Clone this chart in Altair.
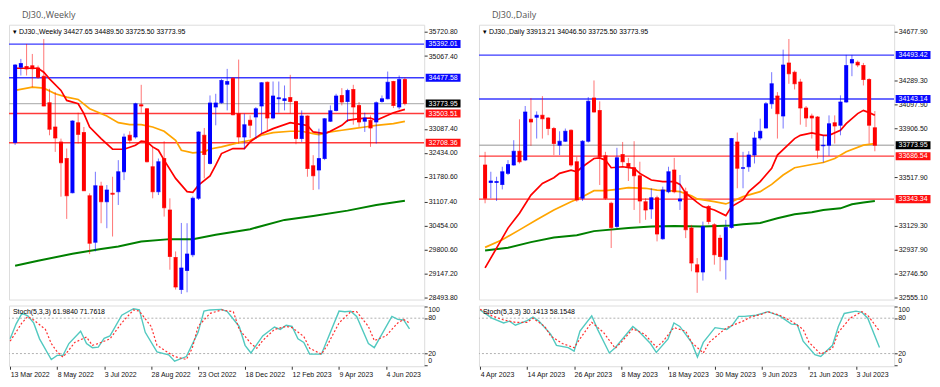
import json
import numpy as np
import pandas as pd
import altair as alt

# ------------------------------------------------------------------ weekly data
w_labels = ["13 Mar 2022", "8 May 2022", "3 Jul 2022", "28 Aug 2022", "23 Oct 2022",
            "18 Dec 2022", "12 Feb 2023", "9 Apr 2023", "4 Jun 2023"]
w_open = [32715, 34763, 34781, 34800, 34745, 34520, 33797, 33139, 32733, 32282,
          31352, 33256, 32986, 31271, 30008, 31533, 31109, 31334, 31380, 31921,
          32913, 32868, 33744, 33635, 32056, 31380, 32282, 30883, 29593, 28718,
          29240, 29665, 31199, 32913, 32147, 33680, 33798, 34303, 34465, 33500,
          32868, 33319, 33410, 33707, 34357, 33383, 33906, 33861, 33942, 33834,
          32823, 33437, 32083, 31966, 32282, 33292, 33590, 33996, 33834, 34159,
          33725, 33292, 33319, 33274, 33834, 33906, 34375, 33680, 34427.65]
w_high = [34850, 34989, 35395, 35124, 34808, 35530, 34177, 34087, 32823, 32553,
          33319, 33527, 33139, 31334, 31921, 31650, 31560, 31786, 32237, 32958,
          33022, 33798, 34285, 33653, 32598, 32282, 32751, 31199, 29755, 30530,
          30523, 31250, 33022, 33112, 33996, 34041, 34447, 34718, 34492, 34971,
          33500, 33455, 33680, 34357, 34375, 34375, 34375, 34267, 34556, 33852,
          33590, 33455, 32372, 33094, 33383, 33725, 34041, 34195, 34177, 34285,
          33816, 33527, 33455, 33834, 33996, 34646, 34393, 34538, 34489.50]
w_low = [32650, 34538, 34538, 34222, 34447, 33700, 32913, 32462, 31244, 30640,
         31334, 32688, 31397, 29683, 29755, 30522, 30387, 30161, 31019, 31695,
         32688, 32823, 33527, 32174, 31199, 31289, 30703, 29259, 28718, 28600,
         28645, 29600, 31154, 31741, 32120, 33184, 33771, 33590, 33455, 32688,
         32534, 32841, 32823, 32958, 33004, 33347, 33527, 33590, 33500, 32670,
         32733, 31786, 31425, 31443, 32237, 33274, 33563, 33725, 33274, 33202,
         33139, 33004, 32598, 32688, 33798, 33888, 33653, 33617, 33725.50]
w_close = [34826, 34862, 34718, 34720, 34492, 33707, 33076, 32841, 32165, 31271,
           33301, 32931, 31406, 29981, 31542, 31109, 31425, 31307, 31921, 32868,
           32778, 33771, 33707, 32192, 31380, 32192, 30946, 29620, 28790, 29305,
           29684, 31199, 33004, 32390, 33789, 33789, 34402, 34375, 33473, 32868,
           33202, 33184, 33635, 34339, 33383, 33978, 33933, 33906, 33834, 32823,
           33437, 32011, 31813, 32282, 33365, 33581, 33978, 33816, 34131, 33680,
           33274, 33383, 33112, 33798, 33906, 34357, 33725, 34429, 33773.95]

w_fast_i = [0, 4, 5, 6, 8, 9, 11, 12, 13, 15, 17, 19, 21, 22, 23, 24, 25, 26, 28, 30,
            31, 32, 34, 35, 36, 38, 40, 41, 43, 45, 48, 49, 51, 52, 54, 55, 57, 58,
            60, 62, 63, 65, 66, 68]
w_fast_v = [34736, 34736, 34628, 34447, 34132, 33861, 33771, 33500, 33139, 32823,
            32534, 32534, 32643, 32751, 32733, 32598, 32507, 32237, 31741, 31380,
            31362, 31560, 31810, 32101, 32417, 32553, 32553, 32733, 32958, 33094,
            33256, 33229, 33180, 33004, 32958, 33022, 33184, 33319, 33365, 33383,
            33319, 33455, 33527, 33617]
w_mid_i = [0, 3, 5, 7, 9, 11, 13, 16, 18, 20, 22, 24, 26, 28, 29, 31, 33, 34, 36, 39,
           41, 43, 45, 48, 50, 52, 53, 55, 57, 59, 61, 63, 66, 68]
w_mid_v = [34132, 34222, 34195, 34041, 33951, 33888, 33635, 33437, 33256, 33202,
           33202, 33139, 33022, 32778, 32507, 32435, 32462, 32540, 32598, 32715,
           32778, 32913, 32986, 33022, 33022, 32958, 32931, 33004, 33049, 33094,
           33139, 33184, 33229, 33292]
w_slow_i = [0, 4, 10, 15, 18, 22, 27, 31, 35, 41, 47, 52, 58, 63, 68]
w_slow_v = [29367, 29503, 29692, 29820, 29890, 30025, 30090, 30090, 30207, 30361,
            30613, 30721, 30865, 31018, 31135]

w_k_i = [0, 1, 2, 3, 4, 5, 7, 8, 9, 10, 12, 13, 14, 15, 16, 17, 19, 21, 22, 23, 25,
         27, 28, 30, 32, 33, 34, 36, 37, 39, 40, 41, 43, 45, 46, 47, 48, 49, 50, 51,
         53, 56, 57, 58, 59, 61, 62, 65, 66, 67, 68]
w_k_v = [45, 70, 88, 84, 72, 45, 10, 17, 17, 37, 58, 37, 30, 31, 46, 50, 85, 96, 94,
         56, 23, 18, 7, 15, 56, 92, 94, 95, 91, 66, 34, 21, 50, 65, 61, 68, 66, 45,
         39, 19, 19, 92, 91, 92, 83, 37, 30, 83, 78, 77, 61.984]
w_d_i = [0, 2, 3, 4, 6, 7, 8, 9, 10, 11, 13, 14, 15, 17, 19, 21, 22, 24, 25, 27, 28,
         30, 31, 32, 34, 36, 38, 39, 41, 42, 43, 45, 47, 48, 50, 51, 53, 54, 56, 58,
         59, 61, 62, 64, 66, 67, 68]
w_d_v = [41, 72, 83, 77, 61, 37, 23, 14, 26, 39, 48, 34, 37, 45, 72, 94, 92, 66, 34,
         21, 15, 10, 29, 66, 88, 94, 91, 61, 37, 29, 42, 61, 66, 64, 49, 29, 19, 34,
         72, 91, 91, 66, 42, 50, 72, 78, 71.7618]

w_levels = [35392.01, 34477.58, 33503.51, 32708.36]
w_level_kind = ["blue", "blue", "red", "red"]
w_ticks = [35720.80, 35067.40, 33087.40, 32434.00, 31780.60,
           31107.40, 30454.00, 29800.60, 29147.20, 28493.80]

# ------------------------------------------------------------------ daily data
d_labels = ["4 Apr 2023", "14 Apr 2023", "26 Apr 2023", "8 May 2023", "18 May 2023",
            "30 May 2023", "9 Jun 2023", "21 Jun 2023", "3 Jul 2023"]
d_open = [33615, 33477, 33477, 33461, 33549, 33615, 33726, 33655, 33981, 33997,
          34013, 33991, 33907, 33774, 33806, 33893, 33642, 33350, 33806, 34150,
          34052, 33689, 33310, 33125, 33700, 33628, 33594, 33530, 33323, 33265,
          33355, 33027, 33403, 33575, 33329, 33403, 33112, 32820, 32762, 33284,
          33138, 33032, 32860, 33117, 33800, 33589, 33602, 33695, 33832, 33912,
          34105, 34166, 34007, 34431, 34357, 34278, 34071, 34007, 33999, 33769,
          33774, 33954, 33933, 34119, 34431, 34437, 34410, 34299, 33913.21]
d_high = [33721, 33562, 33522, 33602, 33655, 33814, 33981, 34087, 34150, 34044,
          34166, 33999, 33920, 33885, 33907, 33901, 33681, 33814, 34158, 34291,
          34124, 33721, 33323, 33753, 33800, 33673, 33806, 33642, 33350, 33430,
          33371, 33443, 33602, 33673, 33536, 33435, 33138, 32873, 33164, 33297,
          33151, 33058, 33178, 33832, 33875, 33721, 33726, 33880, 33986, 34119,
          34357, 34198, 34537, 34622, 34370, 34304, 34087, 34026, 34007, 33853,
          34012, 34012, 34172, 34495, 34495, 34450, 34431, 34309, 34046.50]
d_low = [33310, 33350, 33329, 33421, 33536, 33610, 33628, 33647, 33769, 33827,
         33827, 33854, 33695, 33695, 33800, 33602, 33323, 33329, 33795, 34034,
         33456, 33337, 32953, 33112, 33602, 33488, 33257, 33151, 33178, 33186,
         33006, 33019, 33390, 33390, 33257, 33032, 32767, 32595, 32693, 33143,
         32820, 32767, 32701, 33106, 33430, 33430, 33562, 33628, 33814, 33907,
         34065, 33827, 33907, 34264, 34219, 33938, 33920, 33827, 33668, 33636,
         33689, 33787, 33853, 34113, 34325, 34397, 34251, 33787, 33725.50]
d_close = [33350, 33488, 33485, 33562, 33620, 33726, 33642, 34039, 33960, 34013,
           33986, 33907, 33787, 33806, 33885, 33615, 33337, 33806, 34124, 34039,
           33681, 33350, 33117, 33673, 33642, 33602, 33530, 33329, 33257, 33355,
           33064, 33416, 33562, 33403, 33345, 33098, 32833, 32762, 33125, 33164,
           32900, 32886, 33117, 33827, 33589, 33594, 33695, 33832, 33885, 34105,
           34264, 34026, 34415, 34344, 34264, 34071, 33991, 33991, 33734, 33774,
           33946, 33928, 34119, 34410, 34458, 34415, 34299, 33933, 33773.95]

d_fast_i = [0, 2, 4, 6, 8, 10, 12, 13, 15, 16, 17, 19, 20, 21, 22, 24, 26, 27, 29, 31,
            33, 34, 35, 37, 38, 40, 42, 43, 45, 46, 48, 50, 51, 54, 55, 57, 59, 60,
            62, 63, 65, 66, 67, 68]
d_fast_v = [32794, 32952, 33112, 33231, 33376, 33469, 33514, 33549, 33575, 33562,
            33602, 33668, 33673, 33655, 33594, 33602, 33589, 33549, 33496, 33483,
            33483, 33461, 33390, 33318, 33284, 33257, 33212, 33284, 33337, 33403,
            33483, 33589, 33695, 33827, 33853, 33872, 33853, 33853, 33893, 33946,
            34026, 34052, 34034, 34013]
d_mid_i = [0, 3, 6, 9, 12, 15, 17, 19, 21, 23, 25, 28, 30, 32, 34, 36, 37, 40, 42, 43,
           45, 48, 50, 52, 54, 57, 59, 61, 63, 66, 68]
d_mid_v = [32958, 33019, 33098, 33178, 33257, 33323, 33363, 33411, 33411, 33421,
           33435, 33430, 33416, 33411, 33403, 33371, 33345, 33323, 33305, 33323,
           33363, 33403, 33461, 33536, 33594, 33620, 33636, 33668, 33721, 33774,
           33787]
d_slow_i = [0, 4, 8, 12, 16, 19, 25, 29, 33, 38, 43, 45, 48, 51, 54, 57, 59, 62, 64,
            66, 68]
d_slow_v = [32934, 32955, 33000, 33037, 33055, 33088, 33112, 33125, 33128, 33125,
            33132, 33143, 33153, 33191, 33223, 33239, 33257, 33270, 33302, 33316,
            33329]

d_k_i = [0, 2, 4, 5, 6, 8, 9, 10, 12, 13, 15, 16, 17, 19, 20, 22, 23, 26, 27, 29, 30,
         32, 33, 34, 36, 37, 38, 40, 42, 43, 44, 45, 47, 49, 51, 53, 54, 55, 57, 58,
         60, 61, 62, 64, 65, 66, 68]
d_k_v = [94, 80, 72, 75, 68, 76, 82, 75, 53, 34, 30, 24, 58, 84, 61, 21, 30, 66, 58,
         37, 22, 45, 72, 66, 39, 14, 39, 64, 61, 69, 83, 83, 85, 91, 84, 70, 69, 41,
         18, 15, 34, 66, 88, 92, 90, 80, 30.1413]
d_d_i = [0, 2, 4, 6, 8, 9, 11, 12, 14, 16, 17, 19, 21, 23, 24, 26, 28, 30, 31, 33,
         35, 36, 38, 39, 41, 42, 45, 46, 48, 49, 51, 53, 55, 56, 58, 60, 61, 63, 65,
         66, 68]
d_d_v = [95, 84, 77, 73, 73, 80, 66, 50, 37, 30, 45, 73, 56, 29, 39, 62, 53, 31, 39,
         64, 58, 39, 21, 39, 56, 64, 76, 82, 87, 91, 85, 75, 61, 39, 19, 29, 56, 80,
         91, 85, 58.1548]

d_levels = [34493.42, 34143.14, 33686.54, 33343.34]
d_level_kind = ["blue", "blue", "red", "red"]
d_ticks = [34677.90, 34289.30, 34097.90, 33906.50, 33517.90,
           33129.30, 32937.90, 32746.50, 32555.10]

stoch_ticks = [0, 20, 80, 100]
stoch_levels = [20, 80]

# ------------------------------------------------------------------ styling
FONT = "Liberation Sans"
PW, PH, SH = 417, 276, 61
XDOM = [-0.2, 70.5]
SDOM = [-1.5, 101.5]
BOX_PATH = "M-1,-0.23L1,-0.23L1,0.23L-1,0.23Z"
LEVEL_COL = {"blue": "#3a3aff", "red": "#ff3a3a"}
BOX_COL = {"blue": "#0a0aff", "red": "#ff1010"}


def build(symbol, tf, o, h, l, c, ydom, ticks, levels, kinds, ma, k_i, k_v, d_i, d_v,
          labels, ext):
    n = len(o)
    df = pd.DataFrame({"i": np.arange(n), "o": o, "h": h, "l": l, "c": c})
    df["dir"] = np.where(df["c"] >= df["o"], "up", "down")
    xs = alt.X("i:Q", scale=alt.Scale(domain=XDOM, nice=False, zero=False), axis=None)
    ysc = alt.Scale(domain=ydom, nice=False, zero=False)
    yax = alt.Axis(orient="right", values=ticks, format=".2f", grid=False, domain=False,
                   tickSize=3, tickColor="#333", labelPadding=1, labelFontSize=7,
                   labelFont=FONT, labelColor="#111", minExtent=ext, maxExtent=ext,
                   labelFlush=False, labelOverlap=False, labelBound=False)
    col = alt.Color("dir:N", scale=alt.Scale(domain=["up", "down"],
                                             range=["#0000ff", "#ff0000"]), legend=None)
    base = alt.Chart(df)
    wick = base.mark_rule(strokeWidth=1, opacity=0.55, clip=True).encode(
        x=xs, y=alt.Y("l:Q", scale=ysc, axis=yax, title=None), y2="h:Q", color=col)
    body = base.mark_bar(size=4, clip=True).encode(
        x=xs, y=alt.Y("o:Q", scale=ysc, axis=yax, title=None), y2="c:Q", color=col)
    tick_o = base.mark_tick(orient="horizontal", size=4, thickness=1, clip=True).encode(
        x=xs, y=alt.Y("o:Q", scale=ysc, axis=yax, title=None), color=col)
    tick_c = base.mark_tick(orient="horizontal", size=4, thickness=1, clip=True).encode(
        x=xs, y=alt.Y("c:Q", scale=ysc, axis=yax, title=None), color=col)

    lev = pd.DataFrame({"v": levels + [c[-1]],
                        "lc": [LEVEL_COL[k] for k in kinds] + ["#b8b8b8"],
                        "bc": [BOX_COL[k] for k in kinds] + ["#000000"],
                        "t": [f"{v:.2f}" for v in levels] + [f"{c[-1]:.2f}"]})
    lb = alt.Chart(lev)
    hl = lb.mark_rule(strokeWidth=1.4, clip=True).encode(
        y=alt.Y("v:Q", scale=ysc, axis=yax, title=None), color=alt.Color("lc:N", scale=None))
    box = lb.mark_point(shape=BOX_PATH, filled=True, size=35 ** 2, opacity=1).encode(
        x=alt.value(PW + 19), y=alt.Y("v:Q", scale=ysc, axis=yax, title=None),
        fill=alt.Fill("bc:N", scale=None), stroke=alt.value(None))
    boxt = lb.mark_text(fontSize=7, font=FONT, color="white", align="center",
                        baseline="middle").encode(
        x=alt.value(PW + 19), y=alt.Y("v:Q", scale=ysc, axis=yax, title=None), text="t:N")

    lines = []
    for (li, lv, lcol, lw) in ma:
        mdf = pd.DataFrame({"i": li, "v": lv})
        lines.append(alt.Chart(mdf).mark_line(color=lcol, strokeWidth=lw, clip=True).encode(
            x=xs, y=alt.Y("v:Q", scale=ysc, axis=yax, title=None)))

    head = f"\u25be {symbol},{tf}  {o[-1]:.2f} {h[-1]:.2f} {l[-1]:.2f} {c[-1]:.2f}"
    htxt = alt.Chart(pd.DataFrame({"t": [head]})).mark_text(
        fontSize=7, font=FONT, color="#000", align="left", baseline="middle").encode(
        x=alt.value(4), y=alt.value(7), text="t:N")

    main = alt.layer(hl, *lines, wick, body, tick_o, tick_c, box, boxt, htxt).properties(
        width=PW, height=PH)

    # stochastic sub-window
    sx = alt.X("i:Q", scale=alt.Scale(domain=XDOM, nice=False, zero=False),
               axis=alt.Axis(values=list(range(0, 8 * len(labels), 8)),
                             labelExpr=json.dumps(labels) + "[round(datum.value / 8)]",
                             labelAlign="left", labelFontSize=7, labelFont=FONT,
                             labelColor="#111", tickSize=3, tickColor="#333",
                             labelPadding=1, domain=False, grid=False, title=None,
                             labelOverlap=False))
    ssc = alt.Scale(domain=SDOM, nice=False, zero=False)
    sax = alt.Axis(orient="right", values=stoch_ticks, grid=False, domain=False,
                   tickSize=3, tickColor="#333", labels=False,
                   minExtent=ext, maxExtent=ext)
    lvl = alt.Chart(pd.DataFrame({"v": stoch_levels})).mark_rule(
        color="#b0b0b0", strokeDash=[2, 2], strokeWidth=1).encode(
        y=alt.Y("v:Q", scale=ssc, axis=sax, title=None))
    kl = alt.Chart(pd.DataFrame({"i": k_i, "v": k_v})).mark_line(
        color="#52c9c0", strokeWidth=1.4, clip=True).encode(
        x=sx, y=alt.Y("v:Q", scale=ssc, axis=sax, title=None))
    dl = alt.Chart(pd.DataFrame({"i": d_i, "v": d_v})).mark_line(
        color="#ff3030", strokeWidth=1.2, strokeDash=[2, 2], clip=True).encode(
        x=sx, y=alt.Y("v:Q", scale=ssc, axis=sax, title=None))
    # scale labels of the oscillator window (0 / 20 / 80 / 100)
    slab = []
    for vals, shift in ((stoch_ticks[:1], -4), (stoch_ticks[1:3], 0), (stoch_ticks[3:], 4)):
        sdf = pd.DataFrame({"v": [float(v) for v in vals], "t": [str(v) for v in vals]})
        slab.append(alt.Chart(sdf).mark_text(
            fontSize=7, font=FONT, color="#111", align="left", baseline="middle",
            dy=shift).encode(
            x=alt.value(PW + 4), y=alt.Y("v:Q", scale=ssc, axis=sax, title=None),
            text="t:N"))
    stxt = alt.Chart(pd.DataFrame({"t": [f"Stoch(5,3,3) {k_v[-1]:.4f} {d_v[-1]:.4f}"]})
                     ).mark_text(fontSize=7, font=FONT, color="#000", align="left",
                                 baseline="middle").encode(
        x=alt.value(4), y=alt.value(7), text="t:N")
    stoch = alt.layer(lvl, kl, dl, *slab, stxt).properties(width=PW, height=SH)

    return alt.vconcat(main, stoch, spacing=3).properties(
        title=alt.TitleParams(f"{symbol},{tf}", anchor="start", dx=14, offset=4,
                              fontSize=9, font="Open Sans", fontWeight="normal",
                              color="#555"))


ma_w = [(w_slow_i, w_slow_v, "#008000", 2), (w_mid_i, w_mid_v, "#ffa500", 1.7),
        (w_fast_i, w_fast_v, "#ff0000", 1.7)]
ma_d = [(d_slow_i, d_slow_v, "#008000", 2), (d_mid_i, d_mid_v, "#ffa500", 1.7),
        (d_fast_i, d_fast_v, "#ff0000", 1.7)]

left = build("DJ30.", "Weekly", w_open, w_high, w_low, w_close, [28447.8, 35918.4],
             w_ticks, w_levels, w_level_kind, ma_w, w_k_i, w_k_v, w_d_i, w_d_v,
             w_labels, 45)
right = build("DJ30.", "Daily", d_open, d_high, d_low, d_close, [32541.6, 34735.9],
              d_ticks, d_levels, d_level_kind, ma_d, d_k_i, d_k_v, d_d_i, d_d_v,
              d_labels, 37)

chart = alt.hconcat(left, right, spacing=8).properties(
    padding={"left": 0, "top": 2, "right": 0, "bottom": 0}
).configure_view(stroke="#5a5a5a", strokeWidth=1, fill="white").configure(
    background="white"
).configure_axis(labelOverlap=False, labelBound=False)

chart.save("out.html", embed_options={"renderer": "svg", "actions": False})
